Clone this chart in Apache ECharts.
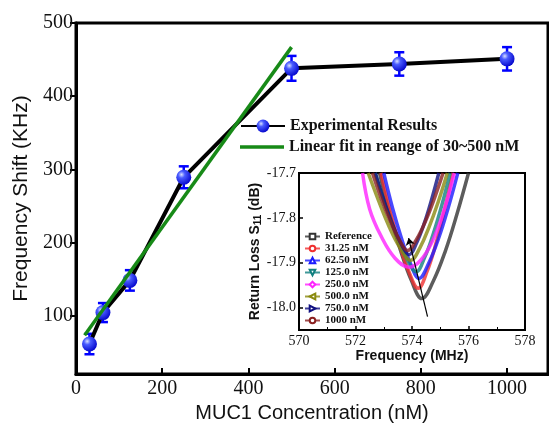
<!DOCTYPE html>
<html>
<head>
<meta charset="utf-8">
<script src="https://cdn.jsdelivr.net/npm/echarts@6/dist/echarts.min.js"></script>
<style>
html, body { margin: 0; padding: 0; background: #fff; }
#chart { width: 549px; height: 424px; }
</style>
</head>
<body>
<div id="chart"></div>
<script>
// main plot: frequency shift vs MUC1 concentration
const concentration = [31.25, 62.5, 125, 250, 500, 750, 1000];
const freqShift = [61, 104, 148, 289, 438, 444, 451];
const shiftError = [14, 13, 14, 15, 17, 16, 16];
const fitX = [20, 500];
const fitY = [73, 467];
const xTicks = [0, 200, 400, 600, 800, 1000];
const yTicks = [100, 200, 300, 400, 500];

// inset: return loss S11 curves, [MHz, dB]
const insetNames = ['Reference', '31.25 nM', '62.50 nM', '125.0 nM', '250.0 nM', '500.0 nM', '750.0 nM', '1000 nM'];
const refCurve = [[572.85,-17.70],[573.22,-17.792],[573.60,-17.874],[573.98,-17.94],[574.35,-17.98],[574.76,-17.94],[575.18,-17.874],[575.59,-17.792],[576.00,-17.70]];
const c31 = [[572.90,-17.70],[573.23,-17.785],[573.56,-17.859],[573.89,-17.92],[574.22,-17.957],[574.53,-17.92],[574.84,-17.859],[575.14,-17.785],[575.45,-17.70]];
const c62 = [[573.00,-17.70],[573.31,-17.778],[573.63,-17.846],[573.94,-17.901],[574.25,-17.935],[574.59,-17.901],[574.94,-17.846],[575.28,-17.778],[575.62,-17.70]];
const c125 = [[572.70,-17.70],[573.06,-17.773],[573.43,-17.836],[573.79,-17.888],[574.15,-17.92],[574.45,-17.888],[574.75,-17.836],[575.05,-17.773],[575.35,-17.70]];
const c250 = [[572.25,-17.70],[572.50,-17.78],[572.90,-17.84],[573.40,-17.89],[573.90,-17.91],[574.30,-17.895],[574.70,-17.855],[575.10,-17.79],[575.50,-17.70]];
const c500 = [[572.45,-17.70],[572.83,-17.764],[573.20,-17.821],[573.58,-17.867],[573.95,-17.895],[574.28,-17.867],[574.60,-17.821],[574.93,-17.764],[575.25,-17.70]];
const c750 = [[572.70,-17.70],[573.00,-17.76],[573.30,-17.813],[573.60,-17.856],[573.90,-17.882],[574.16,-17.856],[574.43,-17.813],[574.69,-17.76],[574.95,-17.70]];
const c1000 = [[572.60,-17.70],[572.91,-17.757],[573.23,-17.807],[573.54,-17.848],[573.85,-17.873],[574.16,-17.848],[574.48,-17.807],[574.79,-17.757],[575.10,-17.70]];
const arrowPts = [[574.55, -18.02], [573.88, -17.845]];
const insetYTicks = [-18.0, -17.9, -17.8, -17.7];

const insetCurves = [refCurve, c31, c62, c125, c250, c500, c750, c1000];
const insetColors = ['#333333', '#f03030', '#1a1aff', '#118080', '#ff22ff', '#8a8a10', '#101080', '#8a2020'];
const insetSymbols = ['rect', 'circle', 'triangle', 'triangle', 'diamond', 'triangle', 'triangle', 'circle'];
const insetRotate = [0, 0, 0, 180, 0, 90, -90, 0];

const serif = 'Liberation Serif';
const sans = 'Liberation Sans';
const fitName = 'Linear fit in reange of 30~500 nM';

const ball = new echarts.graphic.RadialGradient(0.35, 0.32, 0.75, [
    { offset: 0, color: '#d8e0ff' },
    { offset: 0.3, color: '#4a5cff' },
    { offset: 1, color: '#0000c8' }
]);

const myChart = echarts.init(document.getElementById('chart'));

let series = [
    {
        name: 'err',
        type: 'custom',
        xAxisIndex: 0,
        yAxisIndex: 0,
        z: 1,
        data: concentration.map((c, i) => [c, freqShift[i], shiftError[i]]),
        renderItem: (params, api) => {
            const x = api.value(0), y = api.value(1), e = api.value(2);
            const top = api.coord([x, y + e]);
            const bot = api.coord([x, y - e]);
            const w = 5;
            const st = { stroke: '#0000ff', lineWidth: 2.5 };
            return {
                type: 'group',
                children: [
                    { type: 'line', shape: { x1: top[0], y1: top[1], x2: bot[0], y2: bot[1] }, style: st },
                    { type: 'line', shape: { x1: top[0] - w, y1: top[1], x2: top[0] + w, y2: top[1] }, style: st },
                    { type: 'line', shape: { x1: bot[0] - w, y1: bot[1], x2: bot[0] + w, y2: bot[1] }, style: st }
                ]
            };
        }
    },
    {
        name: 'Experimental Results',
        type: 'line',
        xAxisIndex: 0,
        yAxisIndex: 0,
        z: 2,
        data: concentration.map((c, i) => [c, freqShift[i]]),
        symbol: 'circle',
        symbolSize: 15,
        itemStyle: { color: ball },
        lineStyle: { color: '#000', width: 4 }
    },
    {
        name: fitName,
        type: 'line',
        xAxisIndex: 0,
        yAxisIndex: 0,
        z: 3,
        data: fitX.map((x, i) => [x, fitY[i]]),
        symbol: 'none',
        itemStyle: { color: '#178a17' },
        lineStyle: { color: '#178a17', width: 3.5 }
    }
];

insetCurves.forEach((curve, i) => {
    series.push({
        name: insetNames[i],
        type: 'line',
        xAxisIndex: 1,
        yAxisIndex: 1,
        z: 5,
        data: curve,
        smooth: 0.4,
        showSymbol: false,
        symbol: insetSymbols[i],
        symbolRotate: insetRotate[i],
        symbolSize: 6,
        clip: true,
        itemStyle: { color: '#fff', borderColor: insetColors[i], borderWidth: 1 },
        lineStyle: { color: insetColors[i], width: 3.5, opacity: 0.8 }
    });
});

series.push({
    name: 'arrow',
    type: 'lines',
    coordinateSystem: 'cartesian2d',
    xAxisIndex: 1,
    yAxisIndex: 1,
    z: 6,
    symbol: ['none', 'arrow'],
    symbolSize: 7,
    lineStyle: { color: '#000', width: 1.2, opacity: 1 },
    data: [{ coords: arrowPts }]
});

const legendText = { fontFamily: serif, fontWeight: 'bold', fontSize: 16, color: '#111' };

const option = {
    animation: false,
    grid: [
        { left: 76, top: 23, width: 472, height: 351, outerBoundsMode: 'none', show: true, borderColor: '#000', borderWidth: 3 },
        { left: 299, top: 173, width: 226, height: 157, outerBoundsMode: 'none', show: true, backgroundColor: '#fff', borderColor: '#000', borderWidth: 2 }
    ],
    legend: [
        {
            orient: 'vertical',
            left: 240,
            top: 118,
            padding: 0,
            itemWidth: 44,
            itemHeight: 16,
            data: ['Experimental Results'],
            textStyle: legendText
        },
        {
            orient: 'vertical',
            left: 240,
            top: 139,
            padding: 0,
            itemWidth: 44,
            itemHeight: 3.5,
            icon: 'rect',
            data: [fitName],
            textStyle: legendText
        },
        {
            orient: 'vertical',
            left: 304,
            top: 231,
            padding: 0,
            itemWidth: 15,
            itemHeight: 7,
            itemGap: 1,
            data: insetNames,
            textStyle: { fontFamily: serif, fontWeight: 'bold', fontSize: 11, lineHeight: 11, color: '#111' }
        }
    ],
    xAxis: [
        {
            type: 'value',
            gridIndex: 0,
            min: 0,
            max: 1095,
            name: 'MUC1 Concentration (nM)',
            nameLocation: 'middle',
            nameGap: 29,
            nameTextStyle: { fontFamily: sans, fontSize: 20, color: '#111' },
            axisLine: { lineStyle: { color: '#000', width: 3 } },
            axisTick: { inside: true, length: 6, customValues: xTicks, lineStyle: { color: '#000', width: 2 } },
            axisLabel: { customValues: xTicks, fontFamily: serif, fontSize: 20, color: '#111', margin: 5, formatter: v => String(v) },
            splitLine: { show: false }
        },
        {
            type: 'value',
            gridIndex: 1,
            min: 570,
            max: 578,
            interval: 2,
            name: 'Frequency (MHz)',
            nameLocation: 'middle',
            nameGap: 17,
            nameTextStyle: { fontFamily: sans, fontWeight: 'bold', fontSize: 14, color: '#111' },
            axisLine: { lineStyle: { color: '#000', width: 2 } },
            axisTick: { inside: true, length: 4, lineStyle: { color: '#000', width: 1.5 } },
            minorTick: { show: true, splitNumber: 2, length: 3, lineStyle: { color: '#000', width: 1 } },
            axisLabel: { fontFamily: serif, fontSize: 14, color: '#111', margin: 4, formatter: v => String(v) },
            splitLine: { show: false }
        }
    ],
    yAxis: [
        {
            type: 'value',
            gridIndex: 0,
            min: 20,
            max: 500,
            name: 'Frequency Shift (KHz)',
            nameLocation: 'middle',
            nameGap: 41,
            nameTextStyle: { fontFamily: sans, fontSize: 21, color: '#111' },
            axisLine: { lineStyle: { color: '#000', width: 3 } },
            axisTick: { inside: false, length: 6, customValues: yTicks, lineStyle: { color: '#000', width: 2 } },
            axisLabel: { customValues: yTicks, fontFamily: serif, fontSize: 20, color: '#111', margin: 3 },
            splitLine: { show: false }
        },
        {
            type: 'value',
            gridIndex: 1,
            min: -18.05,
            max: -17.7,
            name: '{a|Return Loss S}{s|11}{a| (dB)}',
            nameLocation: 'middle',
            nameGap: 35,
            nameTextStyle: {
                rich: {
                    a: { fontFamily: sans, fontWeight: 'bold', fontSize: 14, color: '#111' },
                    s: { fontFamily: sans, fontWeight: 'bold', fontSize: 10, color: '#111', verticalAlign: 'bottom', padding: [6, 0, 0, 0] }
                }
            },
            axisLine: { lineStyle: { color: '#000', width: 2 } },
            axisTick: { inside: true, length: 4, customValues: insetYTicks, lineStyle: { color: '#000', width: 1.5 } },
            axisLabel: { customValues: insetYTicks, fontFamily: serif, fontSize: 14, color: '#111', margin: 3, formatter: v => v.toFixed(1) },
            splitLine: { show: false }
        }
    ],
    series: series
};

myChart.setOption(option);
</script>
</body>
</html>
